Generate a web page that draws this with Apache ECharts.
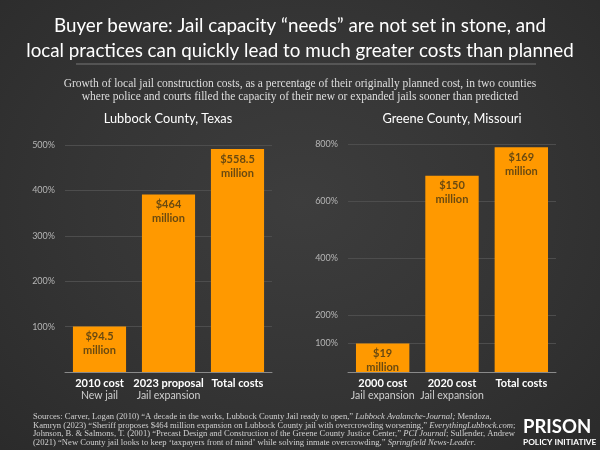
<!DOCTYPE html>
<html>
<head>
<meta charset="utf-8">
<script src="https://cdn.jsdelivr.net/npm/echarts@6/dist/echarts.min.js"></script>
<style>
html,body{margin:0;padding:0;width:600px;height:450px;overflow:hidden;
background: radial-gradient(ellipse at 50% 45%, #3d3d3d 0%, #353535 50%, #2b2b2b 100%);}
#c{width:600px;height:450px;}
</style>
</head>
<body>
<div id="c"></div>
<script>
// ---- data ----
const lubbockCategories = ['2010 cost', '2023 proposal', 'Total costs'];
const lubbockSubLabels = ['New jail', 'Jail expansion', ''];
const lubbockPercent = [100, 391, 491];
const lubbockCostLabels = ['$94.5', '$464', '$558.5'];

const greeneCategories = ['2000 cost', '2020 cost', 'Total costs'];
const greeneSubLabels = ['Jail expansion', 'Jail expansion', ''];
const greenePercent = [100, 689, 789];
const greeneCostLabels = ['$19', '$150', '$169'];

const lubbockTicks = [100, 200, 300, 400, 500];
const greeneTicks = [100, 200, 400, 600, 800];

const titleLines = 'Buyer beware: Jail capacity \u201cneeds\u201d are not set in stone, and\nlocal practices can quickly lead to much greater costs than planned';
const subtitleLines = 'Growth of local jail construction costs, as a percentage of their originally planned cost, in two counties\nwhere police and courts filled the capacity of their new or expanded jails sooner than predicted';

const SANS = 'Lato, "Noto Sans", sans-serif';
const SERIF = '"Liberation Serif", "DejaVu Serif", serif';
const ORANGE = '#ff9900';

function catLabels(cats, subs) {
  return cats.map((c, i) => '{a|' + c + '}' + (subs[i] ? '\n{b|' + subs[i] + '}' : '\n{b| }'));
}
function barData(vals, labels) {
  return vals.map((v, i) => ({ value: v, costLabel: labels[i] }));
}
function splitColors(max, ticks) {
  const arr = [];
  for (let v = 0; v <= max; v += 100) arr.push(ticks.indexOf(v) >= 0 ? '#4d4d4d' : 'rgba(0,0,0,0)');
  return arr;
}

const chart = echarts.init(document.getElementById('c'), null, { renderer: 'canvas' });

const xAxisCommon = {
  type: 'category',
  axisTick: { show: false },
  axisLine: { lineStyle: { color: '#8a8a8a', width: 1 } },
  axisLabel: {
    interval: 0, margin: 5,
    rich: {
      a: { color: '#ffffff', fontFamily: SANS, fontSize: 11, fontWeight: 'bold', lineHeight: 13 },
      b: { color: '#cfcfcf', fontFamily: SANS, fontSize: 10.5, lineHeight: 12 }
    }
  }
};
function yAxis(gridIndex, max, ticks) {
  return {
    type: 'value', gridIndex: gridIndex, min: 0, max: max, interval: 100,
    axisLine: { show: false }, axisTick: { show: false },
    axisLabel: {
      color: '#b5b5b5', fontFamily: SANS, fontSize: 9, margin: 10,
      formatter: v => ticks.indexOf(v) >= 0 ? v + '%' : ''
    },
    splitLine: { lineStyle: { color: splitColors(max, ticks), width: 1 } }
  };
}
const barLabel = {
  show: true, position: 'insideTop', distance: 3,
  formatter: p => p.data.costLabel + '\nmillion',
  color: '#6a4a10', fontFamily: SANS, fontSize: 11, fontWeight: 'bold', lineHeight: 14
};

chart.setOption({
  backgroundColor: 'transparent',
  title: [
    { text: titleLines, left: 'center', top: 13, padding: 0,
      textStyle: { color: '#ffffff', fontFamily: SANS, fontSize: 18.8, fontWeight: 'normal', lineHeight: 25 } },
    { text: subtitleLines, left: 'center', top: 78, padding: 0,
      textStyle: { color: '#dedede', fontFamily: SERIF, fontSize: 11.5, fontWeight: 'normal', lineHeight: 12.5 } },
    { text: 'Lubbock County, Texas', left: 168, top: 112, textAlign: 'center', padding: 0,
      textStyle: { color: '#ffffff', fontFamily: SANS, fontSize: 12.8, fontWeight: 'normal' } },
    { text: 'Greene County, Missouri', left: 452, top: 112, textAlign: 'center', padding: 0,
      textStyle: { color: '#ffffff', fontFamily: SANS, fontSize: 12.8, fontWeight: 'normal' } },
    { text: 'Sources: Carver, Logan (2010) \u201cA decade in the works, Lubbock County Jail ready to open,\u201d {i|Lubbock Avalanche-Journal;} Mendoza,\nKamryn (2023) \u201cSheriff proposes $464 million expansion on Lubbock County jail with overcrowding worsening,\u201d {i|EverythingLubbock.com};\nJohnson, B. & Salmons, T. (2001) \u201cPrecast Design and Construction of the Greene County Justice Center,\u201d {i|PCI Journal}; Sullender, Andrew\n(2021) \u201cNew County jail looks to keep \u2018taxpayers front of mind\u2019 while solving inmate overcrowding,\u201d {i|Springfield News-Leader}.',
      left: 33, top: 413, padding: 0,
      textStyle: { color: '#d0d0d0', fontFamily: SERIF, fontSize: 8.6, fontWeight: 'normal', lineHeight: 8.4,
        rich: { i: { fontStyle: 'italic', color: '#d0d0d0', fontFamily: SERIF, fontSize: 8.6, lineHeight: 8.4 } } } },
    { text: 'PRISON', left: 523, top: 418, padding: 0,
      textStyle: { color: '#ffffff', fontFamily: SANS, fontSize: 18.5, fontWeight: 'bold', letterSpacing: 2 } },
    { text: 'POLICY INITIATIVE', left: 523, top: 438, padding: 0,
      textStyle: { color: '#ffffff', fontFamily: SANS, fontSize: 8.3, fontWeight: 'bold' } }
  ],
  graphic: [
    { type: 'line', shape: { x1: 76, y1: 64, x2: 536, y2: 64 }, style: { stroke: '#777777', lineWidth: 1 } }
  ],
  grid: [
    { left: 65, right: 328, top: 145, bottom: 78 },
    { left: 348, right: 44, top: 144, bottom: 78 }
  ],
  xAxis: [
    Object.assign({}, xAxisCommon, { gridIndex: 0, data: catLabels(lubbockCategories, lubbockSubLabels) }),
    Object.assign({}, xAxisCommon, { gridIndex: 1, data: catLabels(greeneCategories, greeneSubLabels) })
  ],
  yAxis: [ yAxis(0, 500, lubbockTicks), yAxis(1, 800, greeneTicks) ],
  series: [
    { type: 'bar', xAxisIndex: 0, yAxisIndex: 0, data: barData(lubbockPercent, lubbockCostLabels),
      barCategoryGap: '23%', itemStyle: { color: ORANGE }, label: barLabel, silent: true, animation: false },
    { type: 'bar', xAxisIndex: 1, yAxisIndex: 1, data: barData(greenePercent, greeneCostLabels),
      barCategoryGap: '23%', itemStyle: { color: ORANGE }, label: barLabel, silent: true, animation: false }
  ]
});
</script>
</body>
</html>
